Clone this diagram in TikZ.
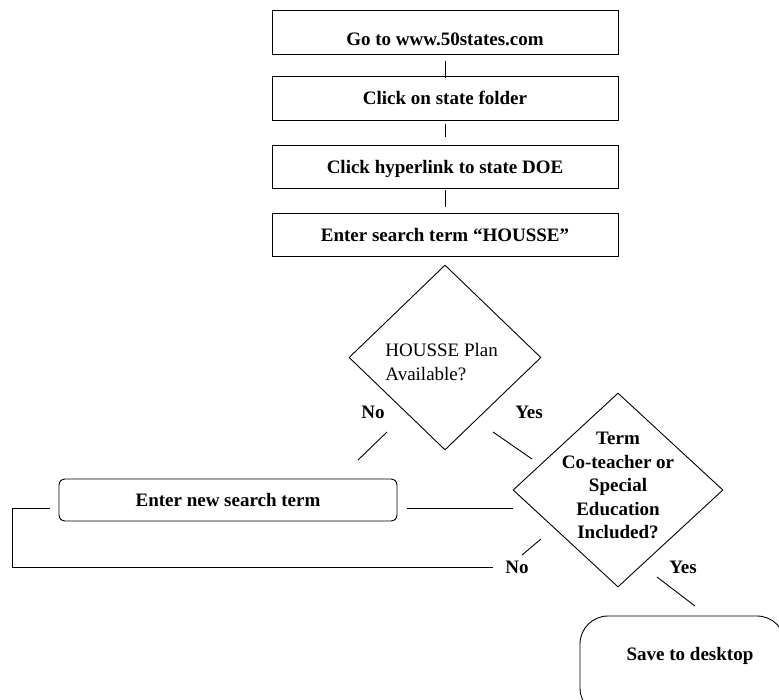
\documentclass[tikz,border=0pt]{standalone}
\usepackage{fontspec}
\setmainfont{Liberation Serif}
\usetikzlibrary{shapes.geometric}

\newcommand\chartfont{\fontsize{19}{23.5}\selectfont}

\tikzset{
  every picture/.style={line width=0.9pt},
  stepbox/.style={draw, rectangle, minimum width=346, minimum height=43.5,
    inner sep=0, text height=13, text depth=0, font=\chartfont\bfseries},
  retrybox/.style={draw, rectangle, rounded corners=6, minimum width=338,
    minimum height=42, inner sep=0, text height=13, text depth=0,
    font=\chartfont\bfseries},
  endbox/.style={draw, rectangle, rounded corners=28, minimum width=205,
    minimum height=100, inner sep=0},
  decision/.style={draw, diamond, inner sep=0},
  answer/.style={inner sep=0, text height=13, text depth=0, font=\chartfont\bfseries},
}

\begin{document}
\begin{tikzpicture}[x=1pt, y=-1pt]
  \useasboundingbox (0,0) rectangle (779,699);

  % steps
  \node[stepbox, text height=26] (b1) at (445,32.3) {Go to www.50states.com};
  \node[stepbox] (b2) at (445,98.3) {Click on state folder};
  \node[stepbox] (b3) at (445,167) {Click hyperlink to state DOE};
  \node[stepbox] (b4) at (445,235) {Enter search term “HOUSSE”};

  \draw[shorten <=6pt, shorten >=-2pt] (b1) -- (b2);
  \draw[shorten <=3pt, shorten >=8pt] (b2) -- (b3);
  \draw[shorten <=1pt, shorten >=6pt] (b3) -- (b4);

  % decisions
  \node[decision, minimum width=192, minimum height=185] (d1) at (445,357.5) {};
  \node[inner sep=0, anchor=west, align=left, font=\chartfont] (d1text) at (385,362)
    {HOUSSE Plan\\Available?};
  \node[decision, minimum width=210, minimum height=194] (d2) at (618,490) {};
  \node[inner sep=0, align=center, font=\chartfont\bfseries] (d2text) at (618,485.5)
    {Term\\Co-teacher or\\Special\\Education\\Included?};

  \node[retrybox] (new) at (228,500) {Enter new search term};
  \node[endbox] (save) at (682.5,666) {};
  \node[answer] (savetext) at (690,653.5) {Save to desktop};

  % answers
  \begin{scope}[every node/.style={answer}]
    \node (no1) at (373,412) {No};
    \node (yes1) at (529,412) {Yes};
    \node (no2) at (517,567) {No};
    \node (yes2) at (683,567) {Yes};
  \end{scope}

  \coordinate (no1s) at (387,432);  \coordinate (no1e) at (358,460);
  \coordinate (yes1s) at (493,432); \coordinate (yes1e) at (532,459);
  \coordinate (no2s) at (541,539);  \coordinate (no2e) at (522,555);
  \coordinate (yes2s) at (657,577); \coordinate (yes2e) at (695,606);
  \coordinate (loop) at (12,567);

  \draw (no1s) -- (no1e);
  \draw (yes1s) -- (yes1e);
  \draw (no2s) -- (no2e);
  \draw (yes2s) -- (yes2e);

  \draw[shorten <=10pt] ([yshift=-8pt]new.east) -- ([yshift=-8pt]new.east -| d2.west);
  \draw[shorten >=12pt] ([xshift=-9pt, yshift=-8pt]new.west) -| (loop) -- (no2.west);
\end{tikzpicture}
\end{document}
